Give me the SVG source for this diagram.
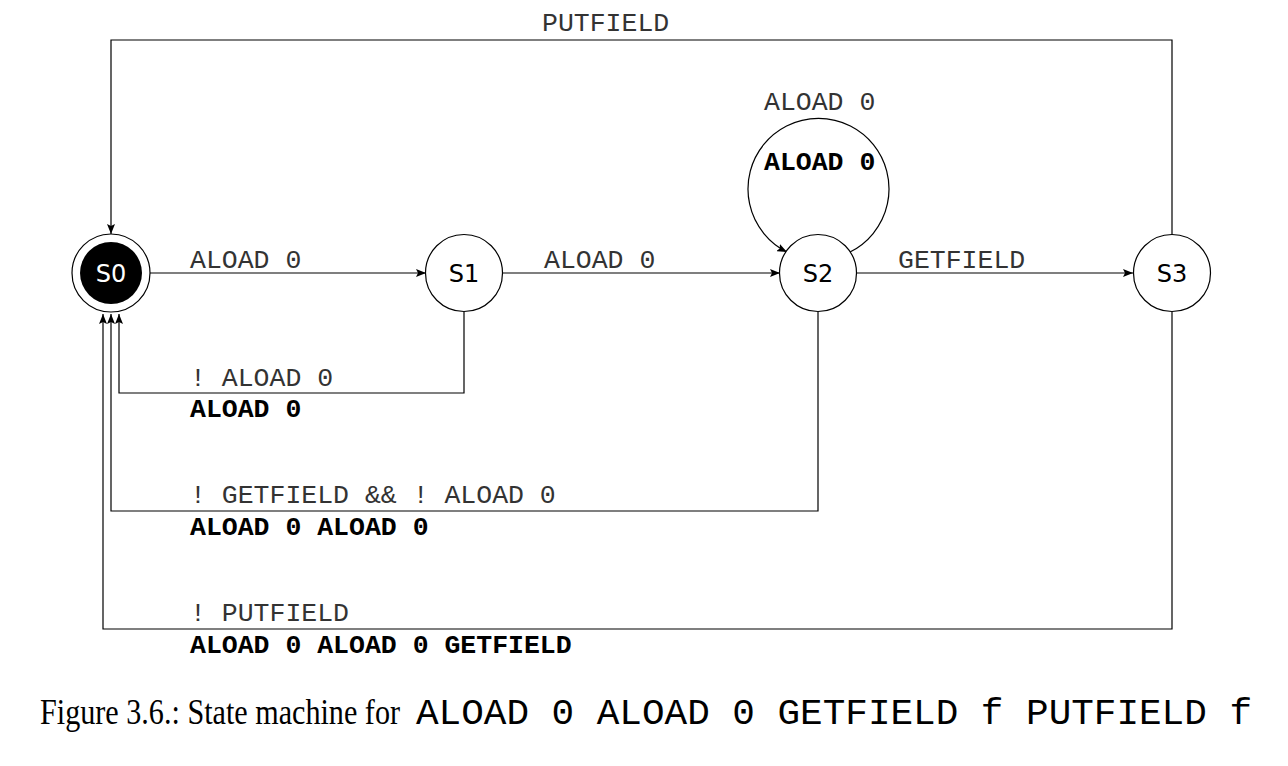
<svg xmlns="http://www.w3.org/2000/svg" width="1288" height="766" viewBox="0 0 1288 766">
<defs>
<marker id="arr" viewBox="0 0 10 8" refX="10" refY="4" markerWidth="10" markerHeight="8" markerUnits="userSpaceOnUse" orient="auto">
<path d="M0,0 L10,4 L0,8 L2,4 Z" fill="#000"/>
</marker>
</defs>
<style>
.st{fill:#fff;stroke:#000;stroke-width:1.2}
.nl{font-family:"DejaVu Sans",sans-serif;font-size:24px;text-anchor:middle}
.e{fill:none;stroke:#000;stroke-width:1.2;marker-end:url(#arr)}
.lb{font-family:"Liberation Mono",monospace;font-size:26.5px;fill:#333}
.bl{font-family:"Liberation Mono",monospace;font-size:26.5px;font-weight:bold;fill:#000}
</style>
<rect width="1288" height="766" fill="#fff"/>
<g id="connectors">
<path class="e" d="M150,273 L426,273"/>
<path class="e" d="M503,273 L780,273"/>
<path class="e" d="M857,273 L1133,273"/>
<path class="e" d="M1172,234 L1172,40 L111,40 L111,234"/>
<path class="e" d="M850,252 A70.5,70.5 0 1 0 787,252"/>
<path class="e" d="M464,312 L464,393 L119,393 L119,314"/>
<path class="e" d="M818,312 L818,511 L111,511 L111,314"/>
<path class="e" d="M1172,312 L1172,629 L103,629 L103,314"/>
<text class="lb" x="190" y="268">ALOAD 0</text>
<text class="lb" x="544" y="268">ALOAD 0</text>
<text class="lb" x="898" y="268">GETFIELD</text>
<text class="lb" x="542" y="31">PUTFIELD</text>
<text class="lb" x="764" y="110">ALOAD 0</text>
<text class="bl" x="764" y="170">ALOAD 0</text>
<text class="lb" x="190" y="386">! ALOAD 0</text>
<text class="bl" x="190" y="417">ALOAD 0</text>
<text class="lb" x="190" y="503">! GETFIELD &amp;&amp; ! ALOAD 0</text>
<text class="bl" x="190" y="535">ALOAD 0 ALOAD 0</text>
<text class="lb" x="190" y="621">! PUTFIELD</text>
<text class="bl" x="190" y="653">ALOAD 0 ALOAD 0 GETFIELD</text>
</g>
<g id="S0">
<circle class="st" cx="111" cy="273" r="39"/>
<circle cx="111" cy="273" r="31" fill="#000"/>
<text class="nl" x="111" y="282" fill="#fff">S0</text>
</g>
<g id="S1">
<circle class="st" cx="464" cy="273" r="38.5"/>
<text class="nl" x="464" y="282">S1</text>
</g>
<g id="S2">
<circle class="st" cx="818" cy="273" r="38.5"/>
<text class="nl" x="818" y="282">S2</text>
</g>
<g id="S3">
<circle class="st" cx="1172" cy="273" r="38.5"/>
<text class="nl" x="1172" y="282">S3</text>
</g>
<g id="caption">
<text x="40" y="724" font-family="Liberation Serif,serif" font-size="35" textLength="360" lengthAdjust="spacingAndGlyphs">Figure 3.6.: State machine for</text>
<text x="416" y="724" font-family="Liberation Mono,monospace" font-size="36" textLength="836" lengthAdjust="spacingAndGlyphs">ALOAD 0 ALOAD 0 GETFIELD f PUTFIELD f</text>
</g>
</svg>
